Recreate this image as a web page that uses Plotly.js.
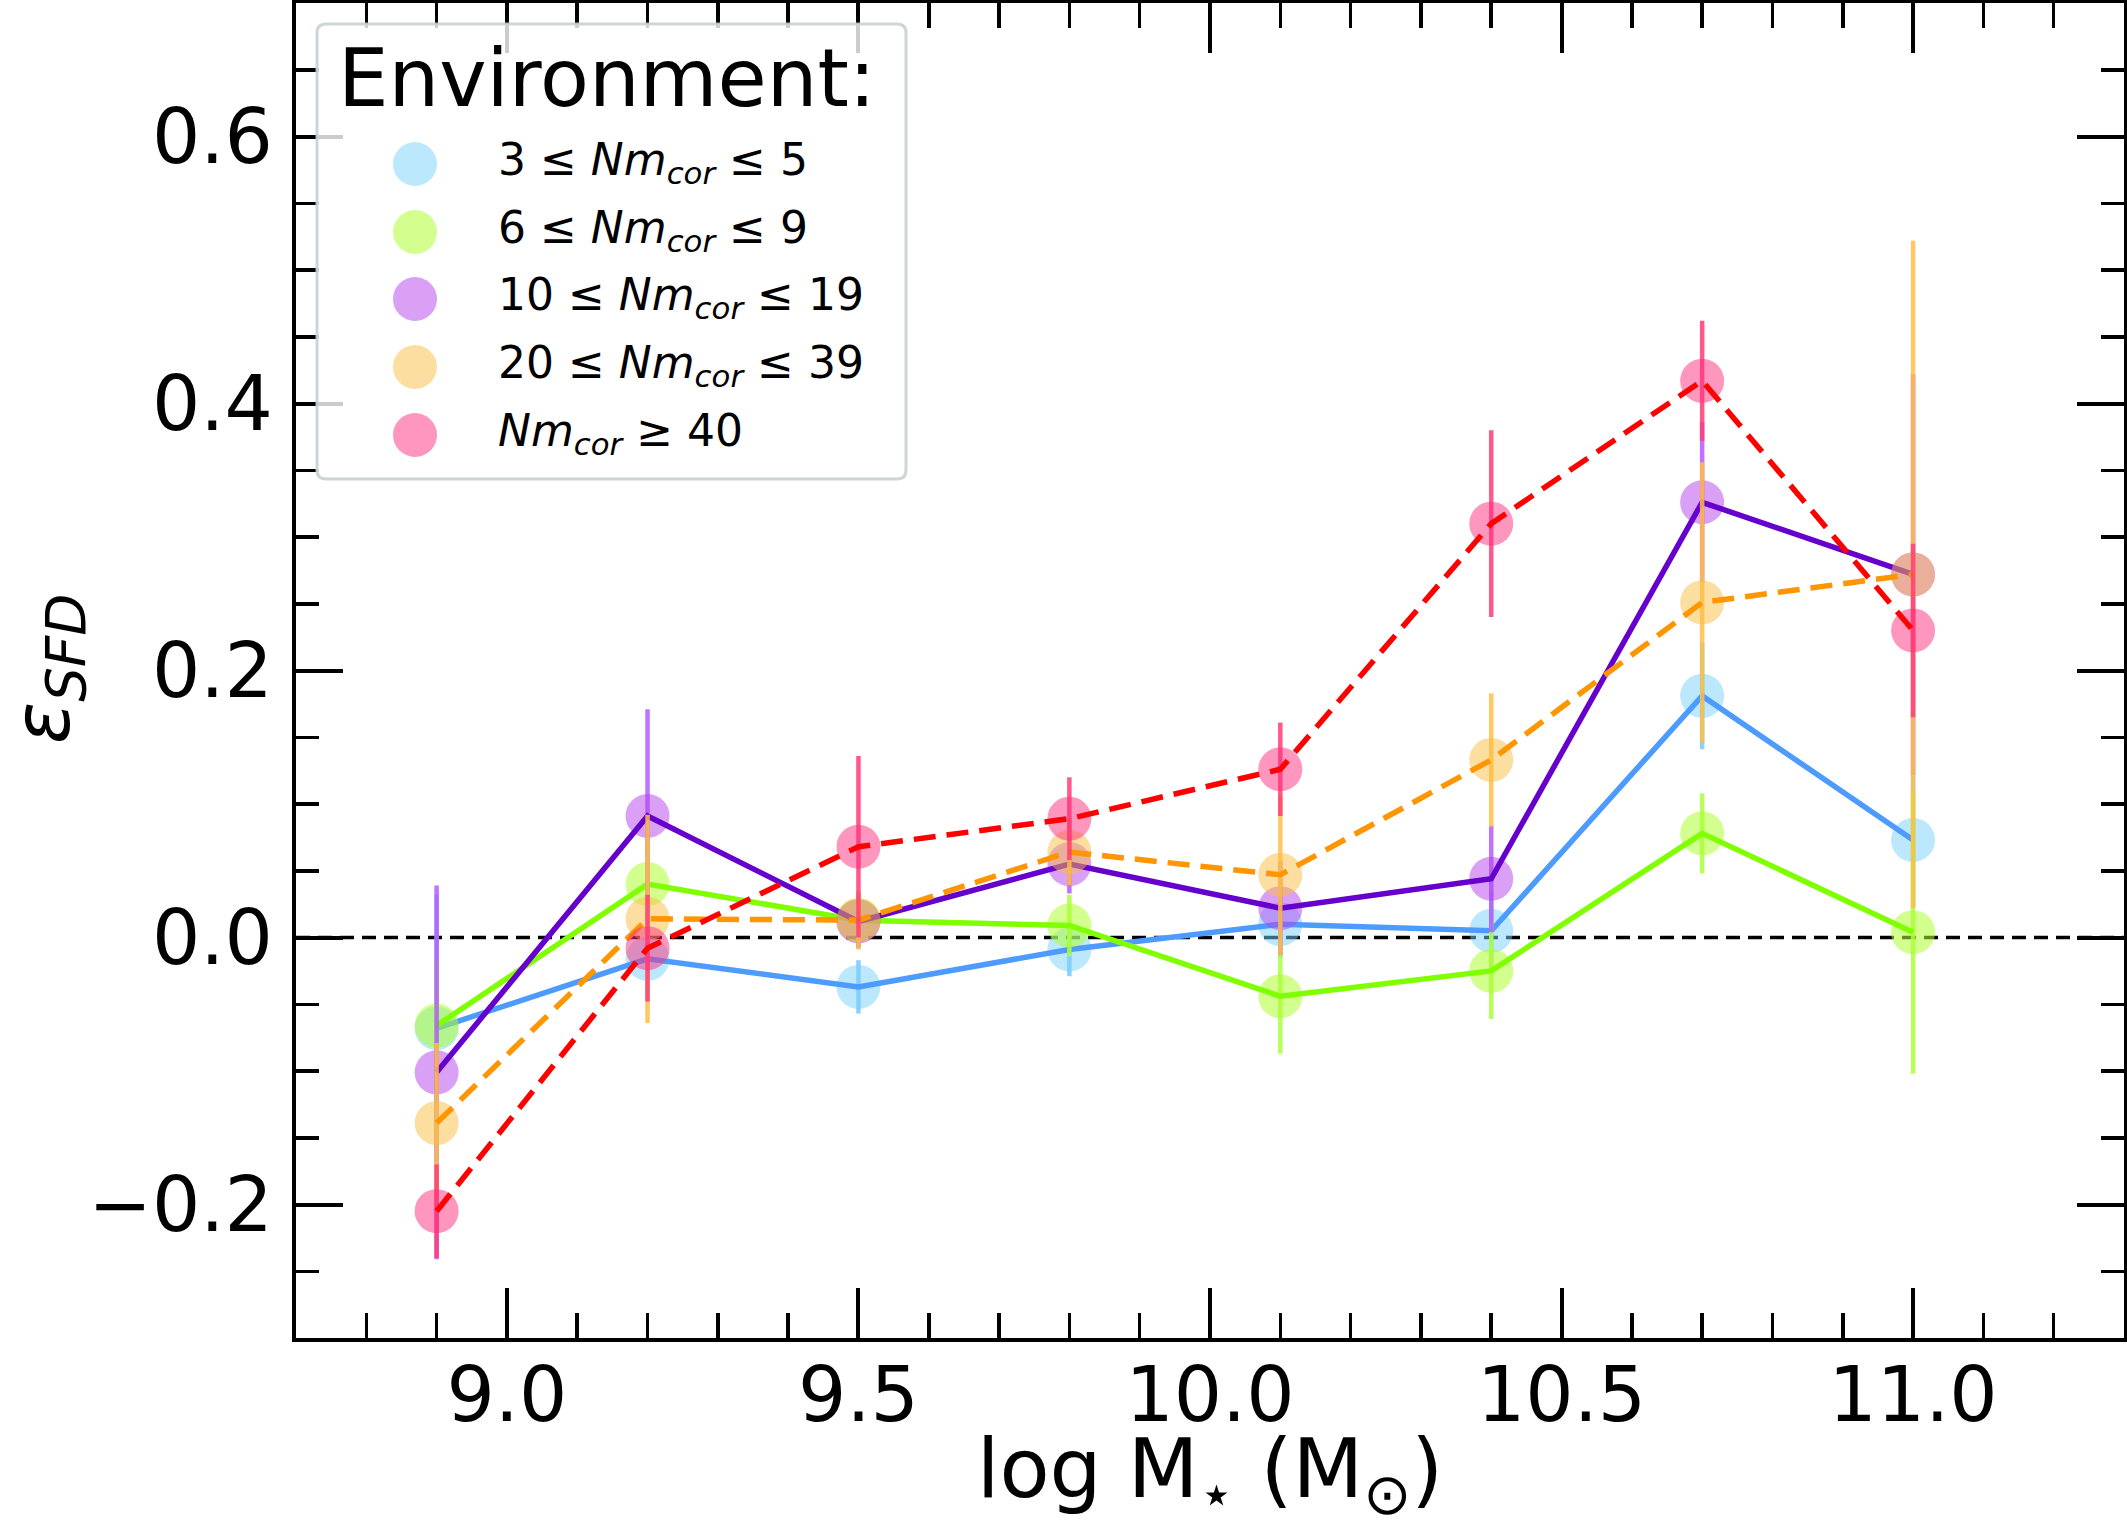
<!DOCTYPE html>
<html>
<head>
<meta charset="utf-8">
<script src="https://cdn.plot.ly/plotly-3.0.1.min.js"></script>
<style>
  body { margin: 0; background: #fff; }
  #plot { width: 2127px; height: 1528px; }
</style>
</head>
<body>
<div id="plot"></div>
<script>
// stellar mass bins (log M*)
var xMass = [8.9, 9.2, 9.5, 9.8, 10.1, 10.4, 10.7, 11.0];

// epsilon_SFD per environment bin
var eps3to5   = [-0.068, -0.016, -0.037, -0.009, 0.010, 0.005, 0.181, 0.073];
var eps6to9   = [-0.066, 0.040, 0.013, 0.009, -0.044, -0.025, 0.078, 0.004];
var eps10to19 = [-0.101, 0.091, 0.012, 0.055, 0.022, 0.044, 0.326, 0.272];
var eps20to39 = [-0.139, 0.014, 0.013, 0.064, 0.047, 0.133, 0.251, 0.272];
var eps40up   = [-0.205, -0.008, 0.068, 0.089, 0.126, 0.310, 0.417, 0.230];

// error bars
var err3to5   = [0.100, 0.030, 0.020, 0.020, 0.025, 0.030, 0.040, 0.050];
var err6to9   = [0.050, 0.040, 0.020, 0.023, 0.043, 0.036, 0.030, 0.106];
var err10to19 = [0.140, 0.080, 0.020, 0.022, 0.035, 0.040, 0.060, 0.150];
var err20to39 = [0.060, 0.078, 0.022, 0.025, 0.060, 0.050, 0.105, 0.250];
var err40up   = [0.035, 0.040, 0.068, 0.031, 0.035, 0.070, 0.045, 0.065];

var envLabels = [
  '3 ≤ <i>Nm</i><sub><i>cor</i></sub> ≤ 5',
  '6 ≤ <i>Nm</i><sub><i>cor</i></sub> ≤ 9',
  '10 ≤ <i>Nm</i><sub><i>cor</i></sub> ≤ 19',
  '20 ≤ <i>Nm</i><sub><i>cor</i></sub> ≤ 39',
  '<i>Nm</i><sub><i>cor</i></sub> ≥ 40'
];

var ys   = [eps3to5, eps6to9, eps10to19, eps20to39, eps40up];
var errs = [err3to5, err6to9, err10to19, err20to39, err40up];

var lineColors   = ['#4d9bff', '#80ff00', '#6600cc', '#ff9500', '#ff0000'];
var lineDash     = ['solid', 'solid', 'solid', '22px,11px', '22px,11px'];
var markerColors = ['rgba(120,210,250,0.5)', 'rgba(173,255,47,0.55)', 'rgba(180,65,235,0.5)',
                    'rgba(250,190,65,0.5)', 'rgba(255,45,125,0.5)'];
var errColors    = ['rgba(120,200,255,0.85)', 'rgba(170,255,60,0.85)', 'rgba(180,90,255,0.85)',
                    'rgba(255,190,70,0.85)', 'rgba(255,60,120,0.85)'];

var FONT = 'DejaVu Sans, Liberation Sans, sans-serif';

var data = [];
for (var i = 0; i < ys.length; i++) {
  data.push({
    x: xMass, y: ys[i],
    mode: 'markers', type: 'scatter', showlegend: false, hoverinfo: 'skip',
    marker: {size: 44, color: markerColors[i], line: {width: 0}},
    error_y: {type: 'data', array: errs[i], visible: true,
              color: errColors[i], thickness: 4.5, width: 0}
  });
  data.push({
    x: xMass, y: ys[i],
    mode: 'lines', type: 'scatter', showlegend: false, hoverinfo: 'skip',
    line: {color: lineColors[i], width: 5.5, dash: lineDash[i]}
  });
}

// plot-area geometry in pixels, used only to place the hand-made legend
var L = 296, R = 2124, T = 3, B = 1338;
function px(xp) { return (xp - L) / (R - L); }
function py(yp) { return (B - yp) / (B - T); }

function roundRect(x0, y0, x1, y1, r) {
  var p = function(a, b){ return px(a) + ',' + py(b); };
  return 'M' + p(x0 + r, y0) + ' L' + p(x1 - r, y0) + ' Q' + p(x1, y0) + ' ' + p(x1, y0 + r) +
         ' L' + p(x1, y1 - r) + ' Q' + p(x1, y1) + ' ' + p(x1 - r, y1) +
         ' L' + p(x0 + r, y1) + ' Q' + p(x0, y1) + ' ' + p(x0, y1 - r) +
         ' L' + p(x0, y0 + r) + ' Q' + p(x0, y0) + ' ' + p(x0 + r, y0) + ' Z';
}

var shapes = [
  {type: 'line', xref: 'paper', x0: 0, x1: 1, yref: 'y', y0: 0, y1: 0, layer: 'below',
   line: {color: 'black', width: 3.5, dash: '14px,8px'}},
  {type: 'path', xref: 'paper', yref: 'paper', layer: 'above',
   path: roundRect(317, 24, 906, 479, 9),
   fillcolor: 'rgba(255,255,255,0.8)', line: {color: 'rgba(200,208,208,0.9)', width: 3}}
];
var annotations = [
  // y-axis title
  {xref: 'paper', yref: 'paper', x: px(48), y: py(669), xanchor: 'center', yanchor: 'middle',
   textangle: -90, showarrow: false, text: '<i>ε</i><sub><i>SFD</i></sub>',
   font: {family: FONT, size: 78, color: 'black'}},
  {xref: 'paper', yref: 'paper', x: px(336), y: py(78), xanchor: 'left', yanchor: 'middle',
   text: 'Environment:', showarrow: false, font: {family: FONT, size: 80, color: 'black'}}
];
var rowY = [164, 232, 299, 367, 435];
for (var k = 0; k < envLabels.length; k++) {
  shapes.push({type: 'circle', xref: 'paper', yref: 'paper', layer: 'above',
    xsizemode: 'pixel', ysizemode: 'pixel', xanchor: px(415), yanchor: py(rowY[k]),
    x0: -22, x1: 22, y0: -22, y1: 22,
    fillcolor: markerColors[k], line: {width: 0}});
  annotations.push({xref: 'paper', yref: 'paper', x: px(496), y: py(rowY[k] - 2),
    xanchor: 'left', yanchor: 'middle', text: envLabels[k], showarrow: false,
    font: {family: FONT, size: 44, color: 'black'}});
}

var axisCommon = {
  showgrid: false, zeroline: false,
  showline: true, linewidth: 4, linecolor: 'black', mirror: 'allticks',
  ticks: 'inside', tickwidth: 4, tickcolor: 'black',
  tickfont: {family: FONT, size: 76, color: 'black'},
  tickformat: '.1f'
};

var layout = {
  width: 2127, height: 1528,
  margin: {l: L, r: 2127 - R, t: T, b: 1528 - B},
  paper_bgcolor: 'white', plot_bgcolor: 'white',
  font: {family: FONT, color: 'black'},
  showlegend: false,
  xaxis: Object.assign({}, axisCommon, {
    range: [8.7, 11.3], tick0: 9, dtick: 0.5, ticklen: 50, ticklabelstandoff: -12,
    minor: {dtick: 0.1, ticks: 'inside', ticklen: 25, tickwidth: 3.5, tickcolor: 'black', showgrid: false},
    title: {text: 'log M<sub>⋆</sub> (M<sub>⊙</sub>)', font: {family: FONT, size: 82}, standoff: 70}
  }),
  yaxis: Object.assign({}, axisCommon, {
    range: [-0.3, 0.7], tick0: 0, dtick: 0.2, ticklen: 47, ticklabelstandoff: 4,
    minor: {dtick: 0.05, ticks: 'inside', ticklen: 23, tickwidth: 3.5, tickcolor: 'black', showgrid: false}
  }),
  shapes: shapes,
  annotations: annotations
};

Plotly.newPlot('plot', data, layout, {displayModeBar: false, staticPlot: true});
</script>
</body>
</html>
